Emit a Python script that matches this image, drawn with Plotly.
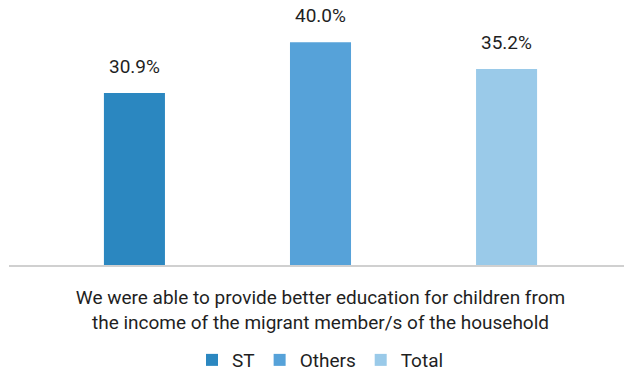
import plotly.graph_objects as go

category = ["We were able to provide better education for children from<br>the income of the migrant member/s of the household"]
series_names = ["ST", "Others", "Total"]
series_values = [30.9, 40.0, 35.2]
series_colors = ["#2B87C0", "#56A2D9", "#9ACAE9"]

BARGAP = 0.104
BARGROUPGAP = 0.672
FONT = dict(family="Roboto", size=19, color="#1F1F1F")

fig = go.Figure()
for name, val, col in zip(series_names, series_values, series_colors):
    fig.add_trace(go.Bar(x=category, y=[val], name=name, marker=dict(color=col, line=dict(width=0))))

n = len(series_names)
slot = (1 - BARGAP) / n
for i, val in enumerate(series_values):
    fig.add_annotation(
        x=(i - (n - 1) / 2) * slot, xref="x", y=val, yref="y",
        text=f"{val:.1f}%", showarrow=False, yanchor="bottom", yshift=13,
        font=FONT,
    )

fig.update_layout(
    width=632, height=369,
    margin=dict(l=1, r=8, t=20, b=112),
    paper_bgcolor="white", plot_bgcolor="white",
    barmode="group", bargap=BARGAP, bargroupgap=BARGROUPGAP,
    font=FONT,
    showlegend=True,
    legend=dict(orientation="h", x=0.5, xanchor="center", yref="container", y=0.046,
                yanchor="middle", font=FONT, itemwidth=30, traceorder="normal"),
    xaxis=dict(showline=True, linecolor="#D0D0D0", linewidth=2, ticks="", showgrid=False,
               tickfont=FONT, ticklabelstandoff=14, automargin=False),
    yaxis=dict(range=[0, 42.55], visible=False, showgrid=False, zeroline=False),
)

fig.write_html("out.html")
